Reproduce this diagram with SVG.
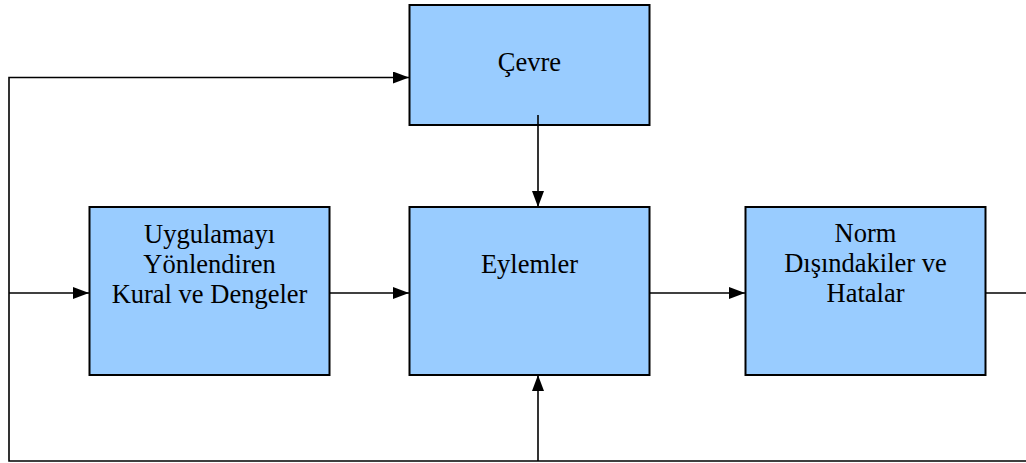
<svg xmlns="http://www.w3.org/2000/svg" width="1026" height="463" viewBox="0 0 1026 463">
<style>
.box{fill:#99CCFF;stroke:#000;stroke-width:2}
.t{font-size:26.5px;fill:#000;text-anchor:middle}
.c{fill:none;stroke:#000;stroke-width:1.6}
</style>
<defs>
<marker id="ah" viewBox="0 0 16 12" refX="16" refY="6" markerWidth="16" markerHeight="12" markerUnits="userSpaceOnUse" orient="auto">
<path d="M0,0 L16,6 L0,12 Z" fill="#000"/>
</marker>
</defs>
<rect width="1026" height="463" fill="#fff"/>
<g font-family="'Liberation Serif', 'DejaVu Serif', serif">
<g id="cevre">
<rect class="box" x="409.5" y="5" width="240" height="120"/>
<text class="t" x="529.5" y="71">Çevre</text>
</g>
<g id="uygulama">
<rect class="box" x="89.5" y="207" width="240" height="168"/>
<text class="t" x="209.5" y="243">Uygulamayı</text>
<text class="t" x="209.5" y="273">Yönlendiren</text>
<text class="t" x="209.5" y="303">Kural ve Dengeler</text>
</g>
<g id="eylemler">
<rect class="box" x="409.5" y="207" width="240" height="168"/>
<text class="t" x="529.5" y="273">Eylemler</text>
</g>
<g id="norm">
<rect class="box" x="745.5" y="207" width="240" height="168"/>
<text class="t" x="865.5" y="242">Norm</text>
<text class="t" x="865.5" y="272">Dışındakiler ve</text>
<text class="t" x="865.5" y="302">Hatalar</text>
</g>
</g>
<g id="connectors">
<path class="c" d="M538,115 V207" marker-end="url(#ah)"/>
<path class="c" d="M9,293 H89" marker-end="url(#ah)"/>
<path class="c" d="M330,293 H409" marker-end="url(#ah)"/>
<path class="c" d="M650,293 H745" marker-end="url(#ah)"/>
<path class="c" d="M986,293 H1026"/>
<path class="c" d="M1026,461 H9 V77.5 H409" marker-end="url(#ah)"/>
<path class="c" d="M538,461 V375" marker-end="url(#ah)"/>
</g>
</svg>
